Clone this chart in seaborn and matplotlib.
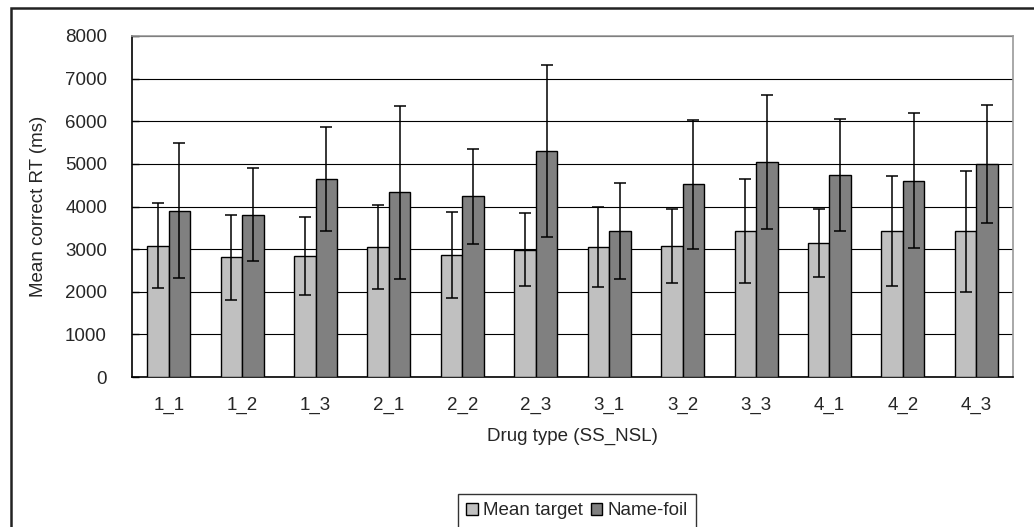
import numpy as np
import pandas as pd
import matplotlib
matplotlib.use("Agg")
import matplotlib.pyplot as plt
from matplotlib.patches import Rectangle
import seaborn as sns

# Data
drug_types = ['1_1', '1_2', '1_3', '2_1', '2_2', '2_3',
              '3_1', '3_2', '3_3', '4_1', '4_2', '4_3']
mean_target = [3080, 2810, 2840, 3050, 2865, 2990,
               3050, 3075, 3420, 3140, 3420, 3420]
mean_target_err = [1000, 1000, 920, 975, 1000, 860,
                   950, 860, 1225, 795, 1285, 1420]
name_foil = [3905, 3810, 4635, 4330, 4235, 5305,
             3420, 4525, 5035, 4735, 4605, 5000]
name_foil_err = [1590, 1085, 1220, 2025, 1120, 2015,
                 1130, 1515, 1570, 1315, 1590, 1390]
series_names = ['Mean target', 'Name-foil']
series_colors = ['#C0C0C0', '#808080']

df = pd.DataFrame({
    'drug': drug_types * 2,
    'rt': mean_target + name_foil,
    'series': [series_names[0]] * len(drug_types) + [series_names[1]] * len(drug_types),
})
errors = [mean_target_err, name_foil_err]

sns.set_style("white")
plt.rcParams['font.family'] = ['Liberation Sans', 'DejaVu Sans']
fs = 13.5

fig = plt.figure(figsize=(10.34, 5.27), dpi=100)
ax = fig.add_axes([132 / 1034, 1 - 377 / 527, 881 / 1034, 341 / 527])

sns.barplot(data=df, x='drug', y='rt', hue='series', order=drug_types,
            hue_order=series_names, palette=series_colors, saturation=1,
            width=0.585, gap=0, errorbar=None, edgecolor='black',
            linewidth=1.0, ax=ax, zorder=3)

# error bars at the bar centres
for container, err in zip(ax.containers, errors):
    xs = [b.get_x() + b.get_width() / 2 for b in container]
    ys = [b.get_height() for b in container]
    ax.errorbar(xs, ys, yerr=err, fmt='none', ecolor='black',
                elinewidth=1.1, capsize=4, capthick=1.1, zorder=4)

ax.set_ylim(0, 8000)
ax.set_xlim(-0.5, len(drug_types) - 0.5)
ax.set_yticks(np.arange(0, 8001, 1000))
ax.yaxis.grid(True, color='black', linewidth=0.8)
ax.set_axisbelow(True)

ax.set_xticks(np.arange(-0.5, len(drug_types), 1.0), minor=True)
ax.tick_params(axis='x', which='major', length=0, pad=14, labelsize=fs)
ax.tick_params(axis='x', which='minor', direction='in', length=6,
               width=1, color='black')
ax.tick_params(axis='y', direction='in', length=5, width=1, color='black',
               left=True, pad=18, labelsize=fs)

for side in ['left', 'bottom']:
    ax.spines[side].set_color('black')
    ax.spines[side].set_linewidth(1.2)
for side in ['top', 'right']:
    ax.spines[side].set_color('#999999')
    ax.spines[side].set_linewidth(1.2)
    ax.spines[side].set_visible(True)

ax.set_xlabel('Drug type (SS_NSL)', fontsize=fs, labelpad=10)
ax.set_ylabel('Mean correct RT (ms)', fontsize=fs, labelpad=13)

ax.legend_.remove()
handles = [plt.Rectangle((0, 0), 1, 1, facecolor=c, edgecolor='black', linewidth=1)
           for c in series_colors]
leg = fig.legend(handles, series_names, loc='upper center',
                 bbox_to_anchor=(577 / 1034, 1 - 494 / 527), ncol=2,
                 borderaxespad=0, frameon=True, fancybox=False,
                 edgecolor='black', handlelength=0.6, handleheight=0.6,
                 handletextpad=0.3, columnspacing=0.4, borderpad=0.45,
                 fontsize=fs)
leg.get_frame().set_linewidth(1.0)

# outer chart frame
fig.add_artist(Rectangle((11 / 1034, -0.1), 1.2, 1.1 - 8 / 527,
                         transform=fig.transFigure, fill=False,
                         edgecolor='#222222', linewidth=1.8, clip_on=False))

fig.savefig('out.png', dpi=100)
